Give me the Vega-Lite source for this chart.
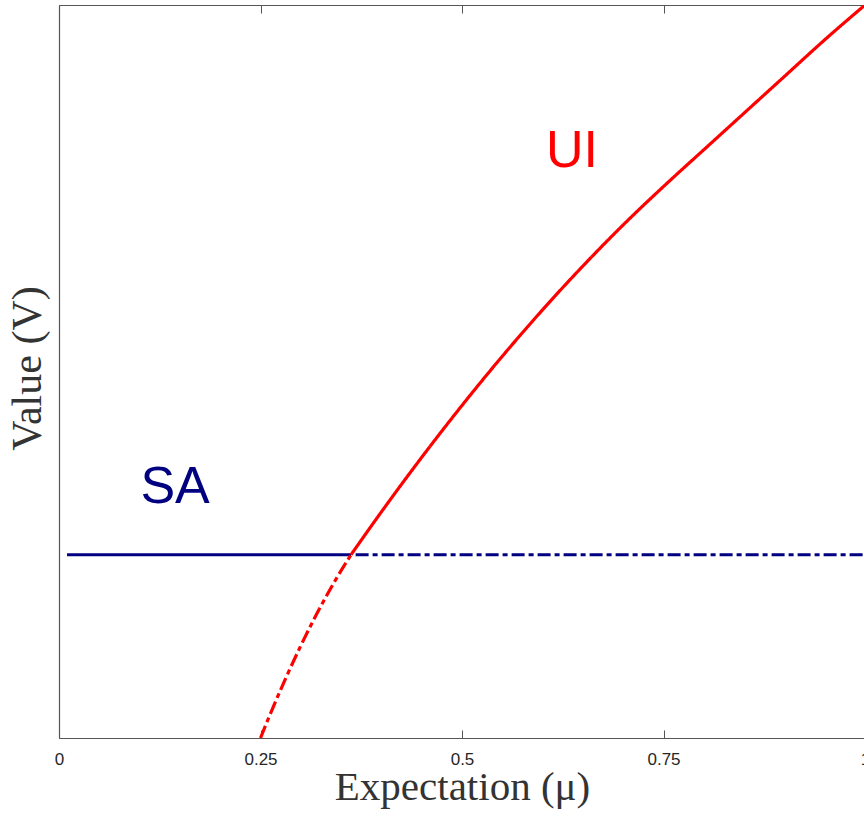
{
  "$schema": "https://vega.github.io/schema/vega-lite/v6.json",
  "width": 806,
  "height": 733,
  "autosize": {"type": "none"},
  "padding": {"left": 59, "top": 5, "right": 0, "bottom": 78},
  "background": "white",
  "view": {"stroke": null},
  "config": {
    "axis": {"grid": false, "domainColor": "#555555", "tickColor": "#555555", "domainWidth": 1.2}
  },
  "datasets": {
    "lines": [
      {"series": "SA", "style": "solid", "x": 0.01, "y": 0.25},
      {"series": "SA", "style": "solid", "x": 0.3623, "y": 0.25},
      {"series": "SA", "style": "dashdot", "x": 0.368, "y": 0.25},
      {"series": "SA", "style": "dashdot", "x": 1.0, "y": 0.25},
      {"series": "UI", "style": "dashdot", "x": 0.25, "y": 0.0},
      {"series": "UI", "style": "dashdot", "x": 0.26, "y": 0.0271},
      {"series": "UI", "style": "dashdot", "x": 0.28, "y": 0.0783},
      {"series": "UI", "style": "dashdot", "x": 0.30, "y": 0.1259},
      {"series": "UI", "style": "dashdot", "x": 0.32, "y": 0.1697},
      {"series": "UI", "style": "dashdot", "x": 0.34, "y": 0.2098},
      {"series": "UI", "style": "dashdot", "x": 0.3623, "y": 0.25},
      {"series": "UI", "style": "solid", "x": 0.3623, "y": 0.25},
      {"series": "UI", "style": "solid", "x": 0.40, "y": 0.3085},
      {"series": "UI", "style": "solid", "x": 0.45, "y": 0.3829},
      {"series": "UI", "style": "solid", "x": 0.50, "y": 0.4537},
      {"series": "UI", "style": "solid", "x": 0.55, "y": 0.5208},
      {"series": "UI", "style": "solid", "x": 0.60, "y": 0.5842},
      {"series": "UI", "style": "solid", "x": 0.65, "y": 0.6439},
      {"series": "UI", "style": "solid", "x": 0.70, "y": 0.7000},
      {"series": "UI", "style": "solid", "x": 0.7581, "y": 0.7606},
      {"series": "UI", "style": "solid", "x": 0.80, "y": 0.8025},
      {"series": "UI", "style": "solid", "x": 0.85, "y": 0.8525},
      {"series": "UI", "style": "solid", "x": 0.90, "y": 0.9025},
      {"series": "UI", "style": "solid", "x": 0.95, "y": 0.9525},
      {"series": "UI", "style": "solid", "x": 1.0, "y": 1.0}
    ],
    "labels": [
      {"series": "SA", "label": "SA", "x": 0.144, "y": 0.3206},
      {"series": "UI", "label": "UI", "x": 0.6365, "y": 0.779}
    ]
  },
  "layer": [
    {
      "data": {"name": "lines"},
      "mark": {"type": "line", "strokeWidth": 3.2, "interpolate": "monotone", "clip": true},
      "encoding": {
        "x": {
          "field": "x", "type": "quantitative",
          "scale": {"domain": [0, 1], "nice": false, "zero": false},
          "axis": {
            "orient": "bottom",
            "values": [0, 0.25, 0.5, 0.75, 1],
            "format": ".2~f",
            "tickSize": -8,
            "labelPadding": 21,
            "labelBaseline": "top",
            "labelFont": "Liberation Sans",
            "labelFontSize": 17,
            "labelColor": "#262626",
            "labelFlush": false,
            "labelOverlap": false,
            "title": "Expectation (μ)",
            "titleFont": "Liberation Serif",
            "titleFontSize": 41,
            "titleFontWeight": "normal",
            "titleColor": "#333333",
            "titleBaseline": "alphabetic",
            "titleAlign": "center",
            "titleX": 403,
            "titleY": 61
          }
        },
        "y": {
          "field": "y", "type": "quantitative",
          "scale": {"domain": [0, 1], "nice": false, "zero": false},
          "axis": {
            "orient": "left",
            "ticks": false,
            "labels": false,
            "title": "Value (V)",
            "titleFont": "Liberation Serif",
            "titleFontSize": 42,
            "titleFontWeight": "normal",
            "titleColor": "#333333",
            "titleAngle": -90,
            "titleBaseline": "middle",
            "titleAlign": "center",
            "titleX": -32,
            "titleY": 363
          }
        },
        "color": {
          "field": "series", "type": "nominal",
          "scale": {"domain": ["SA", "UI"], "range": ["#000080", "#FF0000"]},
          "legend": null
        },
        "strokeDash": {
          "field": "style", "type": "nominal",
          "scale": {"domain": ["solid", "dashdot"], "range": [[1, 0], [13, 4, 5, 4]]},
          "legend": null
        },
        "order": {"field": "x", "type": "quantitative"}
      }
    },
    {
      "data": {"name": "labels"},
      "mark": {"type": "text", "font": "Liberation Sans", "fontSize": 52, "align": "center", "baseline": "alphabetic"},
      "encoding": {
        "x": {
          "field": "x", "type": "quantitative",
          "scale": {"domain": [0, 1], "nice": false, "zero": false},
          "axis": {
            "orient": "top",
            "values": [0, 0.25, 0.5, 0.75, 1],
            "labels": false,
            "tickSize": -8,
            "title": null
          }
        },
        "y": {
          "field": "y", "type": "quantitative",
          "scale": {"domain": [0, 1], "nice": false, "zero": false}
        },
        "text": {"field": "label"},
        "color": {"field": "series", "type": "nominal", "legend": null}
      }
    }
  ],
  "resolve": {"axis": {"x": "independent"}}
}
